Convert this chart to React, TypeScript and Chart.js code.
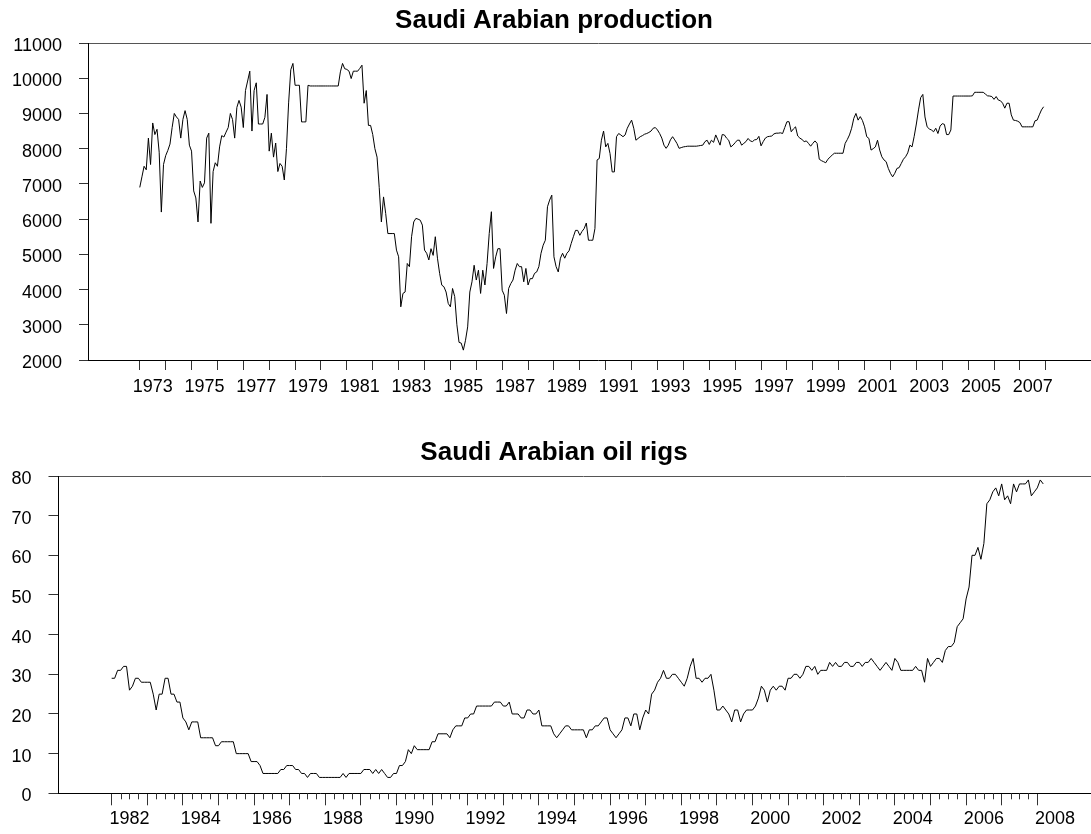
import React, { useEffect, useRef } from 'react';
import { Chart, registerables } from 'chart.js';

Chart.register(...registerables);

// ---------------- DATA ----------------
const productionTitle = 'Saudi Arabian production';
const productionStartYear = 1973; // monthly, Jan 1973 .. Dec 2007
const productionValues = [
  6900, 7200, 7500, 7400, 8300, 7550, 8730, 8400, 8550, 7900, 6200, 7550, // 1973
  7800, 7950, 8130, 8600, 9000, 8900, 8830, 8300, 8830, 9080, 8830, 8100, // 1974
  7930, 6800, 6600, 5920, 7080, 6900, 7030, 8300, 8440, 5880, 7350, 7600, // 1975
  7500, 8050, 8370, 8330, 8470, 8600, 9000, 8830, 8300, 9170, 9370, 9180, // 1976
  8600, 9650, 9920, 10200, 8500, 9650, 9870, 8700, 8700, 8700, 8890, 9540, // 1977
  7930, 8440, 7760, 8160, 7350, 7580, 7500, 7110, 8000, 9300, 10240, 10420, // 1978
  9800, 9800, 9800, 8760, 8760, 8760, 9800, 9780, 9780, 9780, 9780, 9780, // 1979
  9780, 9780, 9780, 9780, 9780, 9780, 9780, 9780, 9780, 10180, 10420, 10270, // 1980
  10250, 10200, 9990, 10200, 10200, 10200, 10280, 10370, 9290, 9650, 8660, 8660, // 1981
  8400, 8000, 7760, 6900, 5920, 6630, 6160, 5590, 5590, 5590, 5590, 5120, // 1982
  4930, 3510, 3890, 3930, 4740, 4650, 5500, 5920, 6020, 6000, 5970, 5830, // 1983
  5120, 5030, 4840, 5160, 4970, 5500, 4890, 4460, 4125, 4080, 3930, 3605, // 1984
  3510, 4030, 3800, 3000, 2500, 2480, 2280, 2560, 2940, 3930, 4220, 4690, // 1985
  4270, 4550, 3890, 4550, 4130, 4740, 5590, 6210, 4600, 4930, 5160, 5160, // 1986
  3980, 3840, 3320, 4030, 4170, 4270, 4550, 4740, 4650, 4650, 4220, 4600, // 1987
  4130, 4310, 4310, 4460, 4500, 4650, 5030, 5260, 5400, 6350, 6540, 6680, // 1988
  4930, 4650, 4500, 4890, 5030, 4890, 5030, 5100, 5310, 5500, 5680, 5680, // 1989
  5540, 5650, 5730, 5890, 5400, 5400, 5400, 5730, 7680, 7720, 8240, 8500, // 1990
  8050, 8150, 7860, 7340, 7340, 8340, 8430, 8390, 8340, 8390, 8580, 8700, // 1991
  8810, 8580, 8240, 8290, 8340, 8370, 8410, 8430, 8460, 8500, 8580, 8600, // 1992
  8530, 8430, 8300, 8100, 8010, 8100, 8250, 8340, 8250, 8150, 8010, 8030, // 1993
  8050, 8060, 8070, 8070, 8070, 8070, 8070, 8080, 8090, 8100, 8200, 8240, // 1994
  8120, 8240, 8180, 8390, 8250, 8100, 8400, 8390, 8300, 8240, 8050, 8100, // 1995
  8170, 8240, 8240, 8100, 8150, 8200, 8290, 8220, 8200, 8250, 8260, 8350, // 1996
  8080, 8200, 8300, 8340, 8350, 8360, 8420, 8440, 8440, 8450, 8430, 8600, // 1997
  8765, 8765, 8480, 8560, 8620, 8360, 8300, 8260, 8200, 8220, 8150, 8070, // 1998
  8150, 8220, 8150, 7700, 7660, 7630, 7600, 7700, 7760, 7820, 7870, 7870, // 1999
  7870, 7870, 7870, 8150, 8260, 8390, 8580, 8860, 9000, 8810, 8910, 8800, // 2000
  8620, 8340, 8290, 7960, 8000, 8050, 8240, 7960, 7770, 7680, 7630, 7440, // 2001
  7300, 7200, 7300, 7440, 7460, 7580, 7700, 7770, 7880, 8100, 8050, 8350, // 2002
  8700, 9100, 9450, 9540, 8900, 8620, 8560, 8530, 8480, 8580, 8430, 8640, // 2003
  8710, 8690, 8400, 8400, 8530, 9494, 9494, 9494, 9494, 9494, 9494, 9494, // 2004
  9494, 9494, 9500, 9600, 9600, 9600, 9600, 9600, 9550, 9500, 9494, 9480, // 2005
  9400, 9480, 9380, 9360, 9290, 9150, 9290, 9290, 8960, 8810, 8800, 8780, // 2006
  8740, 8620, 8620, 8620, 8620, 8620, 8620, 8790, 8810, 8960, 9100, 9190, // 2007
];
const productionYTicks = [2000, 3000, 4000, 5000, 6000, 7000, 8000, 9000, 10000, 11000];
const productionTickYears = [1973, 1974, 1975, 1976, 1977, 1978, 1979, 1980, 1981, 1982, 1983, 1984,
  1985, 1986, 1987, 1988, 1989, 1990, 1991, 1992, 1993, 1994, 1995, 1996, 1997, 1998, 1999, 2000,
  2001, 2002, 2003, 2004, 2005, 2006, 2007, 2008];
const productionXLabels = ['1973', '1975', '1977', '1979', '1981', '1983', '1985', '1987', '1989',
  '1991', '1993', '1995', '1997', '1999', '2001', '2003', '2005', '2007'];

const rigTitle = 'Saudi Arabian oil rigs';
const rigStartYear = 1982; // monthly, Jan 1982 .. Mar 2008
const rigValues = [
  29, 29, 31, 31, 32, 32, 26, 27, 29, 29, 28, 28, // 1982
  28, 28, 25, 21, 25, 25, 29, 29, 25, 25, 23, 23, // 1983
  19, 18, 16, 18, 18, 18, 14, 14, 14, 14, 14, 12, // 1984
  12, 13, 13, 13, 13, 13, 10, 10, 10, 10, 10, 8, // 1985
  8, 8, 7, 5, 5, 5, 5, 5, 5, 6, 6, 7, // 1986
  7, 7, 6, 6, 5, 5, 4, 5, 5, 5, 4, 4, // 1987
  4, 4, 4, 4, 4, 4, 5, 4, 5, 5, 5, 5, // 1988
  5, 6, 6, 6, 5, 6, 5, 6, 5, 4, 4, 5, // 1989
  5, 7, 7, 8, 11, 10, 12, 11, 11, 11, 11, 11, // 1990
  13, 13, 15, 15, 15, 15, 14, 16, 17, 17, 17, 19, // 1991
  19, 20, 20, 22, 22, 22, 22, 22, 22, 23, 23, 23, // 1992
  22, 22, 23, 20, 20, 20, 19, 19, 21, 21, 20, 20, // 1993
  21, 17, 17, 17, 17, 15, 14, 15, 16, 17, 17, 16, // 1994
  16, 16, 16, 16, 14, 16, 16, 17, 17, 18, 19, 19, // 1995
  16, 15, 14, 15, 16, 19, 19, 17, 20, 20, 16, 19, // 1996
  21, 20, 25, 26, 28, 29, 31, 29, 29, 30, 30, 29, // 1997
  28, 27, 29, 32, 34, 29, 29, 28, 29, 29, 30, 26, // 1998
  21, 21, 22, 21, 20, 18, 21, 21, 18, 20, 21, 21, // 1999
  21, 22, 24, 27, 26, 23, 26, 27, 26, 27, 27, 26, // 2000
  29, 29, 30, 30, 29, 30, 32, 32, 31, 32, 30, 31, // 2001
  31, 31, 33, 32, 33, 32, 32, 33, 33, 32, 32, 33, // 2002
  33, 32, 33, 33, 34, 33, 32, 31, 32, 33, 32, 31, // 2003
  34, 33, 31, 31, 31, 31, 31, 32, 31, 31, 28, 34, // 2004
  32, 33, 34, 34, 33, 36, 37, 37, 38, 42, 43, 44, // 2005
  49, 52, 60, 60, 62, 59, 63, 73, 74, 76, 77, 75, // 2006
  78, 74, 75, 73, 78, 76, 78, 78, 78, 79, 75, 76, // 2007
  77, 79, 78, // 2008
];
const rigYTicks = [0, 10, 20, 30, 40, 50, 60, 70, 80];
const rigTickYears = [1982, 1983, 1984, 1985, 1986, 1987, 1988, 1989, 1990, 1991, 1992, 1993, 1994,
  1995, 1996, 1997, 1998, 1999, 2000, 2001, 2002, 2003, 2004, 2005, 2006, 2007, 2008];
const rigXLabels = ['1982', '1984', '1986', '1988', '1990', '1992', '1994', '1996', '1998', '2000',
  '2002', '2004', '2006', '2008'];

// ---------------- STYLE / LAYOUT ----------------
const FONT = "'Liberation Sans', Arial, Helvetica, sans-serif";
const VIEW_W = 1091;
const CANVAS_W = 1108; // wider than the view; the right part is cropped like the original figure
const PANEL_H = 417;

const minorTickPlugin = {
  id: 'minorTicks',
  afterDraw(chart: any, _args: any, opts: any) {
    if (!opts || !opts.values || !opts.values.length) return;
    const s = chart.scales.x;
    const ctx = chart.ctx;
    ctx.save();
    ctx.strokeStyle = opts.color;
    ctx.lineWidth = 1;
    ctx.beginPath();
    for (const v of opts.values) {
      const x = Math.round(s.getPixelForValue(v)) + 0.5;
      ctx.moveTo(x, s.top);
      ctx.lineTo(x, s.top + opts.length);
    }
    ctx.stroke();
    ctx.restore();
  },
};

type PanelProps = {
  top: number;
  title: string;
  titlePad: { top: number; bottom: number };
  startYear: number;
  values: number[];
  xMin: number;
  pxPerYear: number;
  yTicks: number[];
  tickYears: number[];
  xLabels: string[];
  chartLeft: number;
  xAxisHeight: number;
  xTickLength: number;
  xPadding: number;
  yTickLength: number;
  yPadding: number;
  minorTicks: number[];
};

function Panel(p: PanelProps) {
  const ref = useRef<HTMLCanvasElement>(null);
  useEffect(() => {
    const canvas = ref.current;
    if (!canvas) return;
    const yMin = p.yTicks[0];
    const yMax = p.yTicks[p.yTicks.length - 1];
    const xMax = p.xMin + (CANVAS_W - p.chartLeft) / p.pxPerYear;
    const points = p.values.map((v, i) => ({ x: p.startYear + i / 12, y: v }));
    const chart = new Chart(canvas, {
      type: 'line',
      data: {
        datasets: [
          {
            data: points,
            borderColor: '#000',
            borderWidth: 1,
            pointRadius: 0,
            tension: 0,
            fill: false,
          },
        ],
      },
      plugins: [minorTickPlugin],
      options: {
        responsive: false,
        animation: false,
        devicePixelRatio: 1,
        layout: { padding: 0 },
        plugins: {
          legend: { display: false },
          tooltip: { enabled: false },
          title: {
            display: true,
            text: p.title,
            color: '#000',
            font: { family: FONT, size: 26, weight: 'bold', lineHeight: 1.2 },
            padding: p.titlePad,
          },
          minorTicks: { values: p.minorTicks, length: 6, color: '#333' },
        } as any,
        scales: {
          x: {
            type: 'linear',
            min: p.xMin,
            max: xMax,
            afterBuildTicks: (s: any) => {
              s.ticks = p.tickYears.map((v) => ({ value: v }));
            },
            afterFit: (s: any) => {
              s.height = p.xAxisHeight;
            },
            ticks: {
              autoSkip: false,
              maxRotation: 0,
              color: '#000',
              font: { family: FONT, size: 18 },
              padding: p.xPadding,
              labelOffset: p.pxPerYear / 2,
              callback: (v: any) => (p.xLabels.includes(String(v)) ? String(v) : ''),
            },
            grid: {
              drawOnChartArea: false,
              drawTicks: true,
              tickLength: p.xTickLength,
              color: '#333',
            },
            border: { display: true, color: '#000', width: 1 },
          },
          y: {
            type: 'linear',
            min: yMin,
            max: yMax,
            afterBuildTicks: (s: any) => {
              s.ticks = p.yTicks.map((v) => ({ value: v }));
            },
            afterFit: (s: any) => {
              s.width = p.chartLeft;
            },
            ticks: {
              color: '#000',
              font: { family: FONT, size: 18 },
              padding: p.yPadding,
              labelOffset: 3,
              callback: (v: any) => String(v),
            },
            grid: {
              drawOnChartArea: true,
              drawTicks: true,
              tickLength: p.yTickLength,
              color: (c: any) => (c.tick && c.tick.value === yMax ? '#555' : 'rgba(0,0,0,0)'),
              tickColor: '#333',
            },
            border: { display: true, color: '#000', width: 1 },
          },
        },
      } as any,
    } as any);
    return () => chart.destroy();
  }, []);
  return (
    <canvas
      ref={ref}
      width={CANVAS_W}
      height={PANEL_H}
      style={{ position: 'absolute', left: 0, top: p.top, display: 'block', width: CANVAS_W, height: PANEL_H }}
    />
  );
}

const rigMinorTicks: number[] = [];
for (let i = 0; i < rigTickYears.length - 1; i++) {
  rigMinorTicks.push(rigTickYears[i] + 0.25, rigTickYears[i] + 0.5, rigTickYears[i] + 0.75);
}

export default function App() {
  return (
    <div style={{ position: 'absolute', left: 0, top: 0, width: VIEW_W, height: 834, background: '#fff', overflow: 'hidden' }}>
      <Panel
        top={0}
        title={productionTitle}
        titlePad={{ top: 5.5, bottom: 6.3 }}
        startYear={productionStartYear}
        values={productionValues}
        xMin={1971}
        pxPerYear={25.886}
        yTicks={productionYTicks}
        tickYears={productionTickYears}
        xLabels={productionXLabels}
        chartLeft={88}
        xAxisHeight={57}
        xTickLength={10}
        xPadding={6}
        yTickLength={9}
        yPadding={17}
        minorTicks={[]}
      />
      <Panel
        top={PANEL_H}
        title={rigTitle}
        titlePad={{ top: 19.9, bottom: 7.9 }}
        startYear={rigStartYear}
        values={rigValues}
        xMin={1980.506}
        pxPerYear={35.6}
        yTicks={rigYTicks}
        tickYears={rigTickYears}
        xLabels={rigXLabels}
        chartLeft={58.5}
        xAxisHeight={40.7}
        xTickLength={12}
        xPadding={2.5}
        yTickLength={10}
        yPadding={17}
        minorTicks={rigMinorTicks}
      />
    </div>
  );
}
